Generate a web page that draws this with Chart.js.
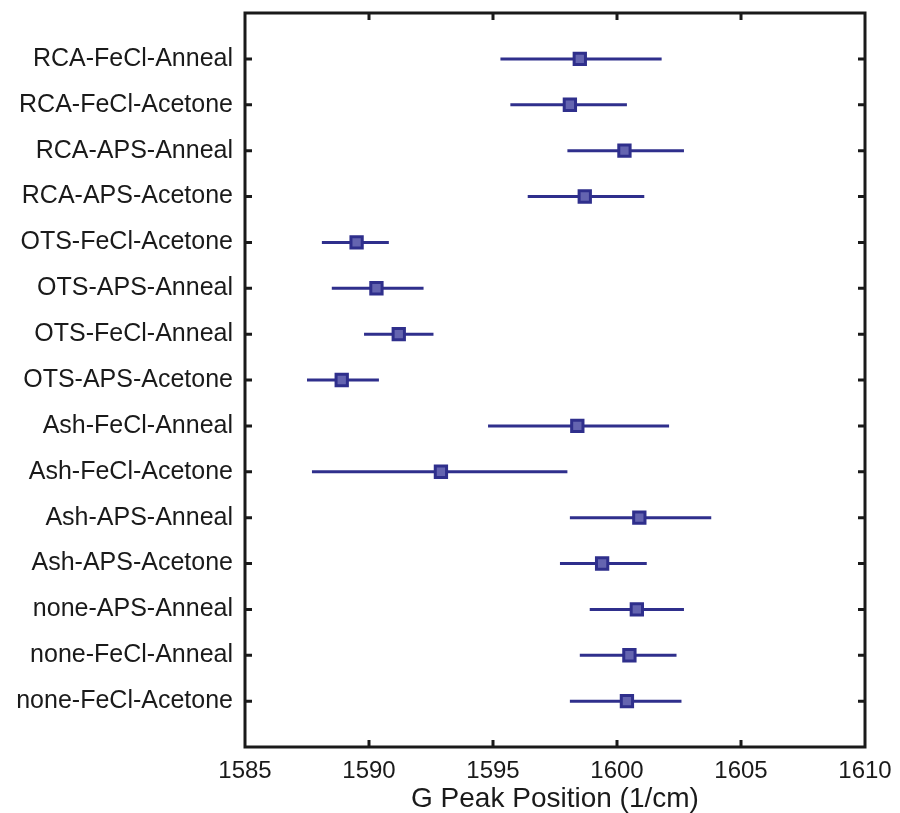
<!DOCTYPE html>
<html>
<head>
<meta charset="utf-8">
<script src="https://cdn.jsdelivr.net/npm/chart.js@4.4.1/dist/chart.umd.min.js"></script>
<style>
  html, body { margin: 0; padding: 0; background: #fff; }
  #wrap { width: 900px; height: 813px; position: relative; }
</style>
</head>
<body>
<div id="wrap"><canvas id="peakChart"></canvas></div>
<script>
// samples, top to bottom
const categories = [
  "RCA-FeCl-Anneal",
  "RCA-FeCl-Acetone",
  "RCA-APS-Anneal",
  "RCA-APS-Acetone",
  "OTS-FeCl-Acetone",
  "OTS-APS-Anneal",
  "OTS-FeCl-Anneal",
  "OTS-APS-Acetone",
  "Ash-FeCl-Anneal",
  "Ash-FeCl-Acetone",
  "Ash-APS-Anneal",
  "Ash-APS-Acetone",
  "none-APS-Anneal",
  "none-FeCl-Anneal",
  "none-FeCl-Acetone"
];

// G peak position (1/cm): mean and the ends of the error bar
const peakMean = [1598.5, 1598.1, 1600.3, 1598.7, 1589.5, 1590.3, 1591.2, 1588.9, 1598.4, 1592.9, 1600.9, 1599.4, 1600.8, 1600.5, 1600.4];
const peakLow  = [1595.3, 1595.7, 1598.0, 1596.4, 1588.1, 1588.5, 1589.8, 1587.5, 1594.8, 1587.7, 1598.1, 1597.7, 1598.9, 1598.5, 1598.1];
const peakHigh = [1601.8, 1600.4, 1602.7, 1601.1, 1590.8, 1592.2, 1592.6, 1590.4, 1602.1, 1598.0, 1603.8, 1601.2, 1602.7, 1602.4, 1602.6];

const xTicks = [1585, 1590, 1595, 1600, 1605, 1610];

const lineColor = "#2f2f8c";
const fontFamily = "'Liberation Sans', Arial, Helvetica, sans-serif";

const errorBarSets = categories.map((name, i) => ({
  label: name,
  data: [{ x: peakLow[i], y: i + 1 }, { x: peakHigh[i], y: i + 1 }],
  showLine: true,
  borderColor: lineColor,
  borderWidth: 3,
  pointRadius: 0,
  order: 2
}));

const markerSet = {
  label: "mean",
  data: peakMean.map((v, i) => ({ x: v, y: i + 1 })),
  pointStyle: "rect",
  pointRadius: 8,
  borderWidth: 3,
  borderColor: lineColor,
  backgroundColor: "#6464b0",
  order: 1
};

// MATLAB-like box with inward tick marks
const boxFrame = {
  id: "boxFrame",
  afterDraw(chart) {
    const { ctx, chartArea: a, scales } = chart;
    ctx.save();
    ctx.strokeStyle = "#1a1a1a";
    ctx.lineWidth = 3;
    ctx.strokeRect(a.left, a.top, a.right - a.left, a.bottom - a.top);

    const tickLen = 7;
    ctx.beginPath();
    xTicks.slice(1, -1).forEach((v) => {
      const px = scales.x.getPixelForValue(v);
      ctx.moveTo(px, a.bottom);
      ctx.lineTo(px, a.bottom - tickLen);
      ctx.moveTo(px, a.top);
      ctx.lineTo(px, a.top + tickLen);
    });
    categories.forEach((name, i) => {
      const py = scales.y.getPixelForValue(i + 1);
      ctx.moveTo(a.left, py);
      ctx.lineTo(a.left + tickLen, py);
      ctx.moveTo(a.right, py);
      ctx.lineTo(a.right - tickLen, py);
    });
    ctx.stroke();
    ctx.restore();
  }
};

new Chart(document.getElementById("peakChart"), {
  type: "scatter",
  data: { datasets: [...errorBarSets, markerSet] },
  options: {
    responsive: true,
    maintainAspectRatio: false,
    animation: false,
    layout: { padding: { top: 13, right: 35, left: 0, bottom: 0 } },
    plugins: {
      legend: { display: false },
      tooltip: { enabled: false }
    },
    scales: {
      x: {
        type: "linear",
        min: 1585,
        max: 1610,
        afterBuildTicks: (scale) => { scale.ticks = xTicks.map((v) => ({ value: v })); },
        afterFit: (scale) => {
          scale.height = 66;
          scale.paddingLeft = 0;
          scale.paddingRight = 0;
        },
        grid: { display: false, drawTicks: false },
        border: { display: false },
        ticks: {
          color: "#1a1a1a",
          padding: 10,
          font: { family: fontFamily, size: 24 },
          callback: (value) => String(value)
        },
        title: {
          display: true,
          text: "G Peak Position (1/cm)",
          color: "#1a1a1a",
          padding: { top: 0, bottom: -3 },
          font: { family: fontFamily, size: 28 }
        }
      },
      y: {
        type: "linear",
        min: 0,
        max: 16,
        reverse: true,
        afterBuildTicks: (scale) => { scale.ticks = categories.map((c, i) => ({ value: i + 1 })); },
        afterFit: (scale) => {
          scale.width = 245;
          scale.paddingTop = 0;
          scale.paddingBottom = 0;
        },
        grid: { display: false, drawTicks: false },
        border: { display: false },
        ticks: {
          color: "#1a1a1a",
          padding: 12,
          autoSkip: false,
          font: { family: fontFamily, size: 25 },
          callback: (value) => categories[value - 1] || ""
        }
      }
    }
  },
  plugins: [boxFrame]
});
</script>
</body>
</html>
